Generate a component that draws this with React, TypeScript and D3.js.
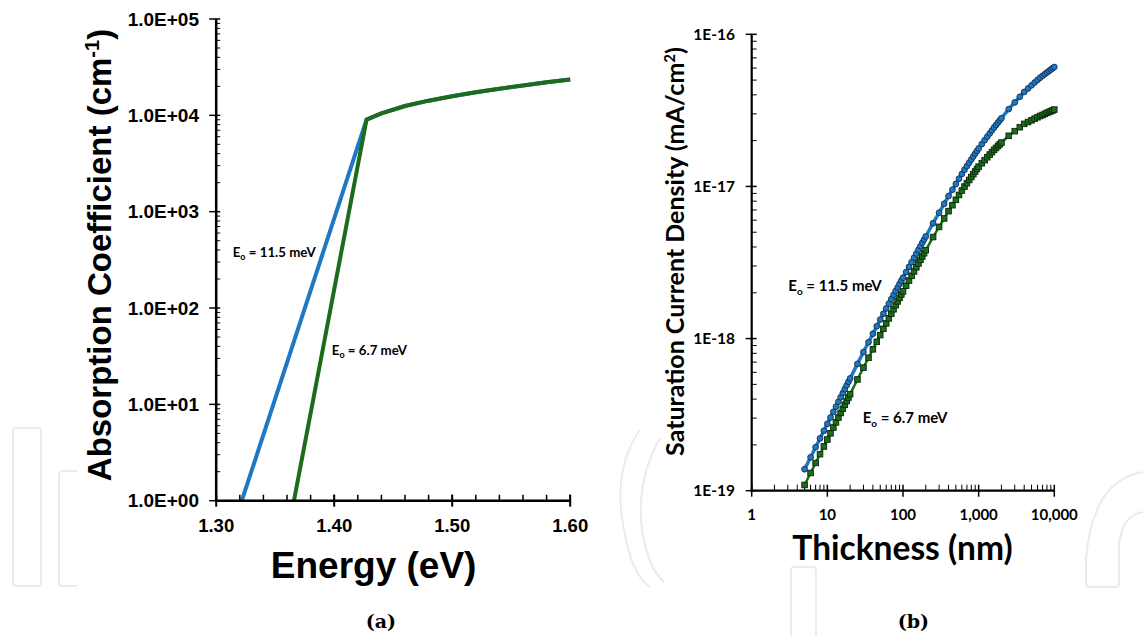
import React from 'react';
import * as d3 from 'd3';

// ---------- Panel (a): absorption coefficient vs energy ----------
const energyBlue = [1.3217, 1.4274, 1.44, 1.46, 1.48, 1.5, 1.52, 1.54, 1.56, 1.58, 1.6];
const alphaBlue = [1, 9020, 10500, 12500, 14200, 15800, 17400, 18900, 20400, 22000, 23600];
const energyGreen = [1.3659, 1.4274, 1.44, 1.46, 1.48, 1.5, 1.52, 1.54, 1.56, 1.58, 1.6];
const alphaGreen = [1, 9020, 10500, 12500, 14200, 15800, 17400, 18900, 20400, 22000, 23600];
const energyTicks = [1.3, 1.4, 1.5, 1.6];
const energyTickLabels = ['1.30', '1.40', '1.50', '1.60'];
const alphaTicks = [1, 10, 100, 1000, 10000, 100000];
const alphaTickLabels = ['1.0E+00', '1.0E+01', '1.0E+02', '1.0E+03', '1.0E+04', '1.0E+05'];

// ---------- Panel (b): saturation current density vs thickness ----------
const thickness = [5, 6, 7, 8, 9, 10, 11, 12, 13, 14, 15, 16, 17, 18, 19, 20,
  25, 30, 35, 40, 45, 50, 55, 60, 65, 70, 75, 80, 85, 90, 95, 100,
  110, 120, 130, 140, 150, 160, 170, 180, 190, 200,
  250, 300, 350, 400, 450, 500, 550, 600, 650, 700, 750, 800, 850, 900, 950, 1000,
  1100, 1200, 1300, 1400, 1500, 1600, 1700, 1800, 1900, 2000,
  2500, 3000, 3500, 4000, 4500, 5000, 5500, 6000, 6500, 7000, 7500, 8000, 8500, 9000, 9500, 10000];
const J_UNIT = 1e-19; // mA/cm2
const jBlue = [1.384, 1.658, 1.932, 2.207, 2.479, 2.754, 3.027, 3.299, 3.571, 3.843, 4.114, 4.386, 4.657, 4.928, 5.199, 5.470,
  6.816, 8.155, 9.467, 10.76, 12.05, 13.34, 14.56, 15.77, 16.98, 18.17, 19.36, 20.54, 21.68, 22.84, 24.00, 25.12,
  27.37, 29.60, 31.80, 34.00, 36.19, 38.35, 40.50, 42.64, 44.77, 46.88,
  57.31, 67.22, 76.92, 86.44, 95.26, 103.9, 112.4, 120.8, 128.8, 136.1, 143.3, 150.4, 157.4, 164.3, 171.1, 177.8,
  189.7, 201.2, 212.3, 223.2, 233.8, 244.2, 253.5, 262.8, 271.8, 280.6,
  322.6, 356.8, 388.4, 417.8, 440.5, 461.9, 482.2, 501.5, 518.7, 533.3, 547.4, 560.8, 573.6, 586.0, 598.0, 609.5];
const jGreen = [1.091, 1.307, 1.522, 1.739, 1.953, 2.170, 2.385, 2.600, 2.814, 3.028, 3.242, 3.456, 3.670, 3.883, 4.097, 4.310,
  5.385, 6.442, 7.479, 8.500, 9.520, 10.54, 11.59, 12.58, 13.58, 14.57, 15.58, 16.58, 17.54, 18.52, 19.49, 20.42,
  22.25, 24.06, 25.85, 27.64, 29.42, 31.18, 32.93, 34.67, 36.40, 38.11,
  46.48, 54.18, 61.61, 68.81, 75.26, 81.67, 87.90, 93.98, 99.82, 105.1, 110.3, 115.4, 120.4, 125.4, 130.2, 134.9,
  142.1, 148.9, 155.6, 162.0, 168.1, 174.1, 179.2, 184.5, 189.2, 194.2,
  215.2, 230.8, 245.1, 257.8, 265.2, 272.1, 278.7, 284.9, 290.5, 294.9, 300.0, 304.5, 308.6, 312.3, 316.3, 320.0];
const thicknessTicks = [1, 10, 100, 1000, 10000];
const thicknessTickLabels = ['1', '10', '100', '1,000', '10,000'];
const jTicks = [1e-19, 1e-18, 1e-17, 1e-16];
const jTickLabels = ['1E-19', '1E-18', '1E-17', '1E-16'];

const BLUE = '#1f78c4';
const GREEN = '#1d6b1d';
const ARIAL = '"Liberation Sans", Arial, sans-serif';
const CAL = 'Lato, "Open Sans", sans-serif';
const WM = '#ebebeb';

export default function App() {
  // ---- scales panel (a)
  const xE = d3.scaleLinear().domain([1.3, 1.6]).range([216.2, 570.2]);
  const yA = d3.scaleLog().domain([1, 1e5]).range([500.7, 19]);
  const lineA = d3.line<[number, number]>().x(d => xE(d[0])).y(d => yA(d[1]));
  const blueA = energyBlue.map((e, i) => [e, alphaBlue[i]] as [number, number]);
  const greenA = energyGreen.map((e, i) => [e, alphaGreen[i]] as [number, number]);
  const minorE = d3.range(0, 16).map(i => 1.3 + i * 0.02);
  const minorA: number[] = [];
  for (let k = 0; k < 5; k++) for (let m = 2; m <= 9; m++) minorA.push(m * Math.pow(10, k));

  // ---- scales panel (b)
  const xT = d3.scaleLog().domain([1, 1e4]).range([751.7, 1054.3]);
  const yJ = d3.scaleLog().domain([1e-19, 1e-16]).range([490.7, 34.3]);
  const lineB = d3.line<[number, number]>().x(d => xT(d[0])).y(d => yJ(d[1]));
  const blueB = thickness.map((t, i) => [t, jBlue[i] * J_UNIT] as [number, number]);
  const greenB = thickness.map((t, i) => [t, jGreen[i] * J_UNIT] as [number, number]);
  const minorT: number[] = [];
  for (let k = 0; k < 4; k++) for (let m = 2; m <= 9; m++) minorT.push(m * Math.pow(10, k));
  const minorJ: number[] = [];
  for (let k = -19; k < -16; k++) for (let m = 2; m <= 9; m++) minorJ.push(m * Math.pow(10, k));

  const ax0 = xE.range()[0];
  const ay0 = yA.range()[0];
  const bx0 = xT.range()[0];
  const by0 = yJ.range()[0];

  return (
    <svg width={1143} height={636} style={{ position: 'absolute', left: 0, top: 0, background: '#fff' }}>
      <rect x={0} y={0} width={1143} height={636} fill="#fff" />
      {/* faint watermark outlines */}
      <g fill="none" stroke={WM} strokeWidth={2}>
        <rect x={13} y={428} width={28} height={158} rx={3} />
        <path d="M77,586 L62,586 Q59,586 59,583 L59,475 Q59,471 63,471 L77,471" />
        <path d="M640,430 Q612,470 624,530 Q632,575 650,587" />
        <path d="M660,438 Q636,480 642,530 Q648,568 664,582" />
        <path d="M1143,472 Q1092,480 1086,560 L1086,584 Q1086,587 1089,587 L1116,587 Q1119,587 1119,584 L1119,545 Q1122,515 1143,512" />
        <path d="M791,636 L791,570 Q791,567 794,567 L813,567 Q816,567 816,570 L816,636" />
      </g>

      {/* ================= Panel (a) ================= */}
      <g>
        <path d={lineA(blueA) || ''} fill="none" stroke={BLUE} strokeWidth={4} strokeLinejoin="round" />
        <path d={lineA(greenA) || ''} fill="none" stroke={GREEN} strokeWidth={4} strokeLinejoin="round" />
        <line x1={ax0} x2={xE(1.6)} y1={ay0} y2={ay0} stroke="#000" strokeWidth={2.5} />
        <line x1={ax0} x2={ax0} y1={ay0 + 1.2} y2={yA(1e5)} stroke="#000" strokeWidth={2.5} />
        {minorE.map((v, i) => (
          <line key={'me' + i} x1={xE(v)} x2={xE(v)} y1={ay0} y2={ay0 - 6} stroke="#000" strokeWidth={1.5} />
        ))}
        {energyTicks.map((v, i) => (
          <g key={'te' + i}>
            <line x1={xE(v)} x2={xE(v)} y1={ay0 - 6} y2={ay0 + 6} stroke="#000" strokeWidth={2} />
            <text x={xE(v)} y={ay0 + 31} textAnchor="middle" fontFamily={ARIAL} fontWeight="bold" fontSize={18.5}>
              {energyTickLabels[i]}
            </text>
          </g>
        ))}
        {minorA.map((v, i) => (
          <line key={'ma' + i} x1={ax0} x2={ax0 + 4} y1={yA(v)} y2={yA(v)} stroke="#000" strokeWidth={1} />
        ))}
        {alphaTicks.map((v, i) => (
          <g key={'ta' + i}>
            <line x1={ax0 - 7} x2={ax0 + 4} y1={yA(v)} y2={yA(v)} stroke="#000" strokeWidth={1.5} />
            <text x={199} y={yA(v) + 6.6} textAnchor="end" fontFamily={ARIAL} fontWeight="bold" fontSize={19}>
              {alphaTickLabels[i]}
            </text>
          </g>
        ))}
        <text x={373.6} y={578} textAnchor="middle" fontFamily={ARIAL} fontWeight="bold" fontSize={37}>
          Energy (eV)
        </text>
        <text transform="translate(111,255) rotate(-90)" textAnchor="middle" fontFamily={ARIAL} fontWeight="bold" fontSize={33}>
          Absorption Coefficient (cm<tspan fontSize={20} dy={-12}>-1</tspan><tspan dy={12}>)</tspan>
        </text>
        <text x={232.7} y={256.5} fontFamily={CAL} fontWeight="bold" fontSize={13.3}>
          E<tspan fontSize={9} dy={3}>o</tspan><tspan dy={-3}> = 11.5 meV</tspan>
        </text>
        <text x={331.8} y={355} fontFamily={CAL} fontWeight="bold" fontSize={13.3}>
          E<tspan fontSize={9} dy={3}>o</tspan><tspan dy={-3}> = 6.7 meV</tspan>
        </text>
        <text x={380.8} y={628} textAnchor="middle" fontFamily='"DejaVu Serif", serif' fontWeight="bold" fontSize={19}>
          (a)
        </text>
      </g>

      {/* ================= Panel (b) ================= */}
      <g>
        <line x1={bx0} x2={xT(1e4)} y1={by0} y2={by0} stroke="#000" strokeWidth={2.2} />
        <line x1={bx0} x2={bx0} y1={by0 + 1.1} y2={yJ(1e-16)} stroke="#000" strokeWidth={2.2} />
        {minorT.map((v, i) => (
          <line key={'mt' + i} x1={xT(v)} x2={xT(v)} y1={by0} y2={by0 - 6} stroke="#000" strokeWidth={1} />
        ))}
        {thicknessTicks.map((v, i) => (
          <g key={'tt' + i}>
            <line x1={xT(v)} x2={xT(v)} y1={by0 - 6} y2={by0 + 6} stroke="#000" strokeWidth={1.5} />
            <text x={xT(v)} y={by0 + 29.5} textAnchor="middle" fontFamily={CAL} fontWeight="bold" fontSize={15}>
              {thicknessTickLabels[i]}
            </text>
          </g>
        ))}
        {minorJ.map((v, i) => (
          <line key={'mj' + i} x1={bx0} x2={bx0 + 5} y1={yJ(v)} y2={yJ(v)} stroke="#000" strokeWidth={1} />
        ))}
        {jTicks.map((v, i) => (
          <g key={'tj' + i}>
            <line x1={bx0 - 6} x2={bx0 + 5} y1={yJ(v)} y2={yJ(v)} stroke="#000" strokeWidth={1.5} />
            <text x={735} y={yJ(v) + 5.3} textAnchor="end" fontFamily={CAL} fontWeight="bold" fontSize={15.5}>
              {jTickLabels[i]}
            </text>
          </g>
        ))}
        <path d={lineB(blueB) || ''} fill="none" stroke={BLUE} strokeWidth={3.5} />
        <path d={lineB(greenB) || ''} fill="none" stroke={GREEN} strokeWidth={2.5} />
        {blueB.map((d, i) => (
          <circle key={'cb' + i} cx={xT(d[0])} cy={yJ(d[1])} r={2.9} fill={BLUE} stroke="#10304e" strokeWidth={0.9} />
        ))}
        {greenB.map((d, i) => (
          <rect key={'sg' + i} x={xT(d[0]) - 2.8} y={yJ(d[1]) - 2.8} width={5.6} height={5.6} fill={GREEN} stroke="#0a260a" strokeWidth={0.9} />
        ))}
        <text x={902.5} y={560} textAnchor="middle" fontFamily={CAL} fontWeight="bold" fontSize={33.5}>
          Thickness (nm)
        </text>
        <text transform="translate(684,251.5) rotate(-90)" textAnchor="middle" fontFamily={CAL} fontWeight="bold" fontSize={25}>
          Saturation Current Density (mA/cm<tspan fontSize={15} dy={-9}>2</tspan><tspan dy={9}>)</tspan>
        </text>
        <text x={788.3} y={291} fontFamily={CAL} fontWeight="bold" fontSize={15}>
          E<tspan fontSize={10} dy={3.5}>o</tspan><tspan dy={-3.5}> = 11.5 meV</tspan>
        </text>
        <text x={862.7} y={423} fontFamily={CAL} fontWeight="bold" fontSize={15}>
          E<tspan fontSize={10} dy={3.5}>o</tspan><tspan dy={-3.5}> = 6.7 meV</tspan>
        </text>
        <text x={913.3} y={628} textAnchor="middle" fontFamily='"DejaVu Serif", serif' fontWeight="bold" fontSize={19}>
          (b)
        </text>
      </g>
    </svg>
  );
}
